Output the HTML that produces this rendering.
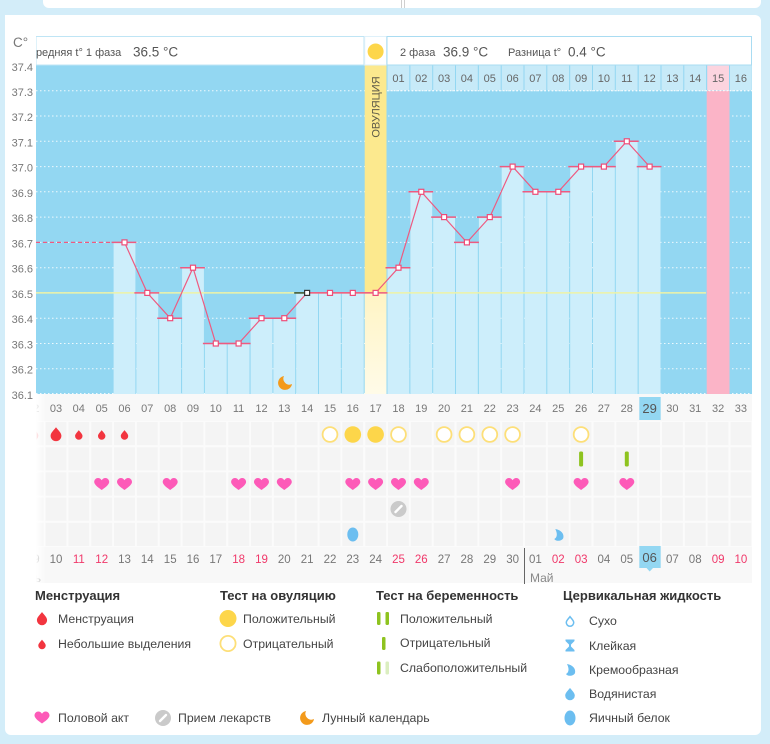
<!DOCTYPE html>
<html><head><meta charset="utf-8">
<style>
html,body{margin:0;padding:0;background:#d3edf9;}
svg{display:block;font-family:"Liberation Sans","DejaVu Sans",sans-serif;}
</style></head>
<body>
<svg width="770" height="744" viewBox="0 0 770 744" xmlns="http://www.w3.org/2000/svg">
<defs>
<path id="drop" d="M0,-7 C2,-4 6,-1 6,2.5 A6,6 0 0 1 -6,2.5 C-6,-1 -2,-4 0,-7Z"/>
<path id="heart" d="M0,5.5 C-2,4 -7.5,0.5 -7.5,-2.5 C-7.5,-5 -5.5,-6.5 -3.8,-6.5 C-2,-6.5 -0.8,-5.5 0,-4.2 C0.8,-5.5 2,-6.5 3.8,-6.5 C5.5,-6.5 7.5,-5 7.5,-2.5 C7.5,0.5 2,4 0,5.5Z"/>
<path id="moon" d="M-1,-7 A7,7 0 1 0 7,1 A6,6 0 0 1 -1,-7Z"/>
<g id="med"><circle r="8" fill="#cacaca"/><line x1="-3" y1="3" x2="3" y2="-3" stroke="#fff" stroke-width="2.4" stroke-linecap="round"/></g>
<pattern id="cells" x="21.75" y="421" width="22.83" height="25.2" patternUnits="userSpaceOnUse">
<rect x="0" y="0" width="22.83" height="25.2" fill="#fbfbfb"/>
<rect x="1" y="1" width="20.83" height="23.2" fill="#f4f4f4"/>
</pattern>
<linearGradient id="ovl" x1="0" y1="0" x2="0" y2="1"><stop offset="0" stop-color="#fff4c4"/><stop offset="1" stop-color="#fffbe8"/></linearGradient>
<linearGradient id="shd" x1="0" y1="0" x2="1" y2="0"><stop offset="0" stop-color="#ffffff" stop-opacity="1"/><stop offset="1" stop-color="#ffffff" stop-opacity="0"/></linearGradient>
<clipPath id="lowclip"><rect x="36" y="394" width="716" height="190"/></clipPath>
</defs>

<rect x="0" y="0" width="770" height="744" fill="#d3edf9"/>
<rect x="43" y="-8" width="718" height="16" rx="6" fill="#fff"/>
<line x1="401.5" y1="0" x2="401.5" y2="8" stroke="#cfcfcf"/>
<line x1="404.5" y1="0" x2="404.5" y2="8" stroke="#cfcfcf"/>
<rect x="5" y="15" width="756" height="720" rx="6" fill="#fff"/>

<rect x="36" y="394" width="716" height="189" fill="#f8f8f8"/>

<rect x="36" y="65.5" width="716" height="328.5" fill="#93d7f2"/>
<g stroke="#ffffff" stroke-width="1" stroke-dasharray="1.5 2.5" opacity="0.85">
<line x1="36" y1="90.7" x2="752" y2="90.7"/>
<line x1="36" y1="116" x2="752" y2="116"/>
<line x1="36" y1="141.3" x2="752" y2="141.3"/>
<line x1="36" y1="166.6" x2="752" y2="166.6"/>
<line x1="36" y1="191.8" x2="752" y2="191.8"/>
<line x1="36" y1="217.1" x2="752" y2="217.1"/>
<line x1="36" y1="242.4" x2="752" y2="242.4"/>
<line x1="36" y1="267.7" x2="752" y2="267.7"/>
<line x1="36" y1="292.9" x2="752" y2="292.9"/>
<line x1="36" y1="318.2" x2="752" y2="318.2"/>
<line x1="36" y1="343.5" x2="752" y2="343.5"/>
<line x1="36" y1="368.7" x2="752" y2="368.7"/>
<line x1="36" y1="393.5" x2="752" y2="393.5"/>
</g>
<rect x="706.7" y="91" width="22.8" height="303" fill="#fbb4c7"/>
<rect x="364.7" y="65.5" width="21.8" height="227.4" fill="#fce98e"/>
<rect x="364.7" y="292.9" width="21.8" height="101.1" fill="url(#ovl)"/>
<text transform="translate(379.5,107) rotate(-90)" text-anchor="middle" font-size="11" fill="#5e5a48">ОВУЛЯЦИЯ</text>

<g fill="#cdeefb">
<rect x="113.6" y="242.4" width="21.8" height="151.6"/>
<rect x="136.4" y="292.9" width="21.8" height="101.1"/>
<rect x="159.2" y="318.2" width="21.8" height="75.8"/>
<rect x="182.1" y="267.7" width="21.8" height="126.3"/>
<rect x="204.9" y="343.5" width="21.8" height="50.5"/>
<rect x="227.7" y="343.5" width="21.8" height="50.5"/>
<rect x="250.6" y="318.2" width="21.8" height="75.8"/>
<rect x="273.4" y="318.2" width="21.8" height="75.8"/>
<rect x="296.2" y="292.9" width="21.8" height="101.1"/>
<rect x="319.0" y="292.9" width="21.8" height="101.1"/>
<rect x="341.9" y="292.9" width="21.8" height="101.1"/>
<rect x="387.5" y="267.7" width="21.8" height="126.3"/>
<rect x="410.4" y="191.8" width="21.8" height="202.2"/>
<rect x="433.2" y="217.1" width="21.8" height="176.9"/>
<rect x="456.0" y="242.4" width="21.8" height="151.6"/>
<rect x="478.9" y="217.1" width="21.8" height="176.9"/>
<rect x="501.7" y="166.6" width="21.8" height="227.4"/>
<rect x="524.5" y="191.8" width="21.8" height="202.2"/>
<rect x="547.3" y="191.8" width="21.8" height="202.2"/>
<rect x="570.2" y="166.6" width="21.8" height="227.4"/>
<rect x="593.0" y="166.6" width="21.8" height="227.4"/>
<rect x="615.8" y="141.3" width="21.8" height="252.7"/>
<rect x="638.7" y="166.6" width="21.8" height="227.4"/>
</g>

<use href="#moon" transform="translate(285,383)" fill="#f39a1b"/>

<line x1="36" y1="292.9" x2="706" y2="292.9" stroke="#eef3a6" stroke-width="1.5"/>
<line x1="36" y1="242.4" x2="113" y2="242.4" stroke="#ef5a80" stroke-width="1.3" stroke-dasharray="4 3"/>

<path fill="none" stroke="#ee5a80" stroke-width="1.5" d="
M111.6,242.4H136.4 M134.4,292.9H159.2 M157.2,318.2H182.1 M180.1,267.7H204.9 M202.9,343.5H227.7 M225.7,343.5H250.6
M248.6,318.2H273.4 M271.4,318.2H296.2 M307.1,292.9H319 M317,292.9H341.9 M339.9,292.9H364.7 M362.7,292.9H387.5
M385.5,267.7H410.4 M408.4,191.8H433.2 M431.2,217.1H456 M454,242.4H478.9 M476.9,217.1H501.7 M499.7,166.6H524.5
M522.5,191.8H547.3 M545.3,191.8H570.2 M568.2,166.6H593 M591,166.6H615.8 M613.8,141.3H638.7 M636.7,166.6H661.5"/>
<line x1="294.2" y1="292.9" x2="307.1" y2="292.9" stroke="#3d5a3a" stroke-width="1.6"/>

<polyline fill="none" stroke="#ee5a80" stroke-width="1.2" points="124.5,242.4 147.3,292.9 170.2,318.2 193,267.7 215.8,343.5 238.6,343.5 261.5,318.2 284.3,318.2 307.1,292.9 330,292.9 352.8,292.9 375.6,292.9 398.5,267.7 421.3,191.8 444.1,217.1 466.9,242.4 489.8,217.1 512.6,166.6 535.4,191.8 558.3,191.8 581.1,166.6 603.9,166.6 626.8,141.3 649.6,166.6"/>
<g fill="#fff" stroke="#ee4d78" stroke-width="1.2">
<rect x="122" y="239.9" width="5" height="5"/>
<rect x="144.8" y="290.4" width="5" height="5"/>
<rect x="167.7" y="315.7" width="5" height="5"/>
<rect x="190.5" y="265.2" width="5" height="5"/>
<rect x="213.3" y="341" width="5" height="5"/>
<rect x="236.1" y="341" width="5" height="5"/>
<rect x="259" y="315.7" width="5" height="5"/>
<rect x="281.8" y="315.7" width="5" height="5"/>
<rect x="327.5" y="290.4" width="5" height="5"/>
<rect x="350.3" y="290.4" width="5" height="5"/>
<rect x="373.1" y="290.4" width="5" height="5"/>
<rect x="396" y="265.2" width="5" height="5"/>
<rect x="418.8" y="189.3" width="5" height="5"/>
<rect x="441.6" y="214.6" width="5" height="5"/>
<rect x="464.4" y="239.9" width="5" height="5"/>
<rect x="487.3" y="214.6" width="5" height="5"/>
<rect x="510.1" y="164.1" width="5" height="5"/>
<rect x="532.9" y="189.3" width="5" height="5"/>
<rect x="555.8" y="189.3" width="5" height="5"/>
<rect x="578.6" y="164.1" width="5" height="5"/>
<rect x="601.4" y="164.1" width="5" height="5"/>
<rect x="624.3" y="138.8" width="5" height="5"/>
<rect x="647.1" y="164.1" width="5" height="5"/>
</g>
<rect x="304.6" y="290.4" width="5" height="5" fill="#fff" stroke="#333" stroke-width="1.2"/>

<rect x="36" y="36.5" width="328" height="28.5" fill="#fff" stroke="#bfe5f5"/>
<rect x="364.7" y="36.5" width="21.8" height="28.5" fill="#fff" stroke="#dff1fa"/>
<circle cx="375.6" cy="51.5" r="8" fill="#fdd64a"/>
<rect x="387" y="36.5" width="364.5" height="28.5" fill="#fff" stroke="#a9dcf2"/>
<text x="28" y="56" font-size="11" fill="#555">Средняя t° 1 фаза</text>
<text x="133" y="56.5" font-size="13.5" fill="#555">36.5 °C</text>
<text x="400" y="56" font-size="11" fill="#555">2 фаза</text>
<text x="443" y="56.5" font-size="13.5" fill="#555">36.9 °C</text>
<text x="508" y="56" font-size="11" fill="#555">Разница t°</text>
<text x="568" y="56.5" font-size="13.5" fill="#555">0.4 °C</text>

<g fill="#c7eaf8">
<rect x="387.5" y="65.5" width="21.8" height="25"/>
<rect x="410.4" y="65.5" width="21.8" height="25"/>
<rect x="433.2" y="65.5" width="21.8" height="25"/>
<rect x="456" y="65.5" width="21.8" height="25"/>
<rect x="478.9" y="65.5" width="21.8" height="25"/>
<rect x="501.7" y="65.5" width="21.8" height="25"/>
<rect x="524.5" y="65.5" width="21.8" height="25"/>
<rect x="547.3" y="65.5" width="21.8" height="25"/>
<rect x="570.2" y="65.5" width="21.8" height="25"/>
<rect x="593" y="65.5" width="21.8" height="25"/>
<rect x="615.8" y="65.5" width="21.8" height="25"/>
<rect x="638.7" y="65.5" width="21.8" height="25"/>
<rect x="661.5" y="65.5" width="21.8" height="25"/>
<rect x="684.3" y="65.5" width="21.8" height="25"/>
<rect x="707.2" y="65.5" width="21.8" height="25" fill="#fcd4df"/>
<rect x="730" y="65.5" width="21.8" height="25"/>
</g>
<line x1="387" y1="90.7" x2="752" y2="90.7" stroke="#fff" stroke-dasharray="1.5 2"/>
<g font-size="11" fill="#666" text-anchor="middle">
<text x="398.5" y="82">01</text><text x="421.3" y="82">02</text><text x="444.1" y="82">03</text><text x="466.9" y="82">04</text>
<text x="489.8" y="82">05</text><text x="512.6" y="82">06</text><text x="535.4" y="82">07</text><text x="558.3" y="82">08</text>
<text x="581.1" y="82">09</text><text x="603.9" y="82">10</text><text x="626.8" y="82">11</text><text x="649.6" y="82">12</text>
<text x="672.4" y="82">13</text><text x="695.2" y="82">14</text><text x="718.1" y="82">15</text><text x="740.9" y="82">16</text>
</g>

<g clip-path="url(#lowclip)">
<rect x="639.3" y="397" width="21.4" height="23" fill="#93d7f2"/>
<g font-size="11" fill="#777" text-anchor="middle">
<text x="33.2" y="412">02</text><text x="56" y="412">03</text><text x="78.8" y="412">04</text><text x="101.7" y="412">05</text>
<text x="124.5" y="412">06</text><text x="147.3" y="412">07</text><text x="170.2" y="412">08</text><text x="193" y="412">09</text>
<text x="215.8" y="412">10</text><text x="238.6" y="412">11</text><text x="261.5" y="412">12</text><text x="284.3" y="412">13</text>
<text x="307.1" y="412">14</text><text x="330" y="412">15</text><text x="352.8" y="412">16</text><text x="375.6" y="412">17</text>
<text x="398.5" y="412">18</text><text x="421.3" y="412">19</text><text x="444.1" y="412">20</text><text x="466.9" y="412">21</text>
<text x="489.8" y="412">22</text><text x="512.6" y="412">23</text><text x="535.4" y="412">24</text><text x="558.3" y="412">25</text>
<text x="581.1" y="412">26</text><text x="603.9" y="412">27</text><text x="626.8" y="412">28</text>
<text x="649.6" y="413" font-size="13" fill="#555">29</text>
<text x="672.4" y="412">30</text><text x="695.2" y="412">31</text><text x="718.1" y="412">32</text><text x="740.9" y="412">33</text>
</g>

<rect x="36" y="421" width="716" height="126" fill="url(#cells)"/>

<g fill="#f2353f">
<use href="#drop" transform="translate(33.2,433.5) scale(0.85)"/>
<use href="#drop" transform="translate(56,433.5) scale(0.9)"/>
<use href="#drop" transform="translate(78.8,434.5) scale(0.62)"/>
<use href="#drop" transform="translate(101.7,434.5) scale(0.62)"/>
<use href="#drop" transform="translate(124.5,434.5) scale(0.62)"/>
</g>
<g fill="#fdd64a">
<circle cx="352.8" cy="434.5" r="8.3"/>
<circle cx="375.6" cy="434.5" r="8.3"/>
</g>
<g fill="#fff" stroke="#fddf78" stroke-width="1.8">
<circle cx="330" cy="434.5" r="7.4"/>
<circle cx="398.5" cy="434.5" r="7.4"/>
<circle cx="444.1" cy="434.5" r="7.4"/>
<circle cx="466.9" cy="434.5" r="7.4"/>
<circle cx="489.8" cy="434.5" r="7.4"/>
<circle cx="512.6" cy="434.5" r="7.4"/>
<circle cx="581.1" cy="434.5" r="7.4"/>
</g>
<rect x="579.1" y="451.5" width="4" height="15" rx="1.5" fill="#8ec31f"/>
<rect x="624.8" y="451.5" width="4" height="15" rx="1.5" fill="#8ec31f"/>
<g fill="#fd5ab8">
<use href="#heart" transform="translate(101.7,484.5)"/>
<use href="#heart" transform="translate(124.5,484.5)"/>
<use href="#heart" transform="translate(170.2,484.5)"/>
<use href="#heart" transform="translate(238.6,484.5)"/>
<use href="#heart" transform="translate(261.5,484.5)"/>
<use href="#heart" transform="translate(284.3,484.5)"/>
<use href="#heart" transform="translate(352.8,484.5)"/>
<use href="#heart" transform="translate(375.6,484.5)"/>
<use href="#heart" transform="translate(398.5,484.5)"/>
<use href="#heart" transform="translate(421.3,484.5)"/>
<use href="#heart" transform="translate(512.6,484.5)"/>
<use href="#heart" transform="translate(581.1,484.5)"/>
<use href="#heart" transform="translate(626.8,484.5)"/>
</g>
<use href="#med" transform="translate(398.5,509)"/>
<ellipse cx="352.8" cy="534.5" rx="5.5" ry="7" fill="#6cbef0"/>
<path transform="translate(558.3,535)" d="M-3,-6 C3,-5 6,-1 5,3 C4,6 -2,7 -4,4 C-2,3 0,0 -3,-6Z" fill="#6cbef0"/>

<rect x="639.3" y="546" width="21.4" height="22" fill="#93d7f2"/>
<path d="M646.5,568 L653,568 L649.7,571.5Z" fill="#93d7f2"/>
<g font-size="11.5" fill="#777" text-anchor="middle">
<text x="33.2" y="563">09</text><text x="56" y="563">10</text>
<text x="78.8" y="563" fill="#f0386a">11</text><text x="101.7" y="563" fill="#f0386a">12</text>
<text x="124.5" y="563">13</text><text x="147.3" y="563">14</text><text x="170.2" y="563">15</text><text x="193" y="563">16</text>
<text x="215.8" y="563">17</text><text x="238.6" y="563" fill="#f0386a">18</text><text x="261.5" y="563" fill="#f0386a">19</text>
<text x="284.3" y="563">20</text><text x="307.1" y="563">21</text><text x="330" y="563">22</text><text x="352.8" y="563">23</text>
<text x="375.6" y="563">24</text><text x="398.5" y="563" fill="#f0386a">25</text><text x="421.3" y="563" fill="#f0386a">26</text>
<text x="444.1" y="563">27</text><text x="466.9" y="563">28</text><text x="489.8" y="563">29</text><text x="512.6" y="563">30</text>
<text x="535.4" y="563">01</text><text x="558.3" y="563" fill="#f0386a">02</text><text x="581.1" y="563" fill="#f0386a">03</text>
<text x="603.9" y="563">04</text><text x="626.8" y="563">05</text>
<text x="649.6" y="562" font-size="13" fill="#555">06</text>
<text x="672.4" y="563">07</text><text x="695.2" y="563">08</text>
<text x="718.1" y="563" fill="#f0386a">09</text><text x="740.9" y="563" fill="#f0386a">10</text>
</g>
<line x1="524.5" y1="548" x2="524.5" y2="584" stroke="#666" stroke-width="1"/>
<text x="530" y="582" font-size="12" fill="#888">Май</text>
<text x="41" y="582" font-size="12" fill="#888" text-anchor="end">Апрель</text>
<rect x="36" y="394" width="10" height="189" fill="url(#shd)"/>
</g>

<rect x="5" y="15" width="31" height="568" fill="#fff"/>
<text x="13" y="47" font-size="13.5" fill="#777">C°</text>
<g font-size="11" fill="#777" text-anchor="end">
<text x="33" y="71">37.4</text>
<text x="33" y="96">37.3</text>
<text x="33" y="121">37.2</text>
<text x="33" y="146.5">37.1</text>
<text x="33" y="171.5">37.0</text>
<text x="33" y="197">36.9</text>
<text x="33" y="222">36.8</text>
<text x="33" y="247.5">36.7</text>
<text x="33" y="272.5">36.6</text>
<text x="33" y="298">36.5</text>
<text x="33" y="323">36.4</text>
<text x="33" y="348.5">36.3</text>
<text x="33" y="373.5">36.2</text>
<text x="33" y="399">36.1</text>
</g>

<g font-size="13" font-weight="bold" fill="#333">
<text x="35" y="600">Менструация</text>
<text x="220" y="600">Тест на овуляцию</text>
<text x="376" y="600">Тест на беременность</text>
<text x="563" y="600">Цервикальная жидкость</text>
</g>
<g font-size="12.3" fill="#444">
<text x="58" y="623">Менструация</text>
<text x="58" y="648">Небольшие выделения</text>
<text x="243" y="623">Положительный</text>
<text x="243" y="648">Отрицательный</text>
<text x="400" y="623">Положительный</text>
<text x="400" y="647">Отрицательный</text>
<text x="400" y="672">Слабоположительный</text>
<text x="589" y="625">Сухо</text>
<text x="589" y="650">Клейкая</text>
<text x="589" y="674">Кремообразная</text>
<text x="589" y="698">Водянистая</text>
<text x="589" y="722">Яичный белок</text>
<text x="58" y="722">Половой акт</text>
<text x="178" y="722">Прием лекарств</text>
<text x="322" y="722">Лунный календарь</text>
</g>
<use href="#drop" transform="translate(42,618) scale(0.85)" fill="#f2353f"/>
<use href="#drop" transform="translate(42,644) scale(0.62)" fill="#f2353f"/>
<circle cx="228" cy="618.5" r="8.5" fill="#fdd64a"/>
<circle cx="228" cy="643.5" r="7.6" fill="#fff" stroke="#fddf78" stroke-width="1.8"/>
<rect x="377" y="612" width="3.5" height="13" rx="1.2" fill="#8ec31f"/>
<rect x="385.5" y="612" width="3.5" height="13" rx="1.2" fill="#8ec31f"/>
<rect x="382" y="637" width="3.5" height="13" rx="1.2" fill="#8ec31f"/>
<rect x="377" y="661.5" width="3.5" height="13" rx="1.2" fill="#8ec31f"/>
<rect x="385.5" y="661.5" width="3.5" height="13" rx="1.2" fill="#dbeec0"/>
<use href="#drop" transform="translate(570,621) scale(0.62)" fill="#fff" stroke="#6cbef0" stroke-width="2.4"/>
<path transform="translate(570,645.5)" d="M-4.5,-6 H4.5 V-4.5 L1,-1 V1 L4.5,4.5 V6 H-4.5 V4.5 L-1,1 V-1 L-4.5,-4.5Z" fill="#6cbef0"/>
<path transform="translate(570,670)" d="M-3,-6 C3,-5 6,-1 5,3 C4,6 -2,7 -4,4 C-2,3 0,0 -3,-6Z" fill="#6cbef0"/>
<use href="#drop" transform="translate(570,693.5) scale(0.8)" fill="#6cbef0"/>
<ellipse cx="570" cy="718" rx="5.5" ry="7.5" fill="#6cbef0"/>
<use href="#heart" transform="translate(42,718)" fill="#fd5ab8"/>
<use href="#med" transform="translate(163,718)"/>
<use href="#moon" transform="translate(307,718)" fill="#f39a1b"/>
</svg>
</body></html>
